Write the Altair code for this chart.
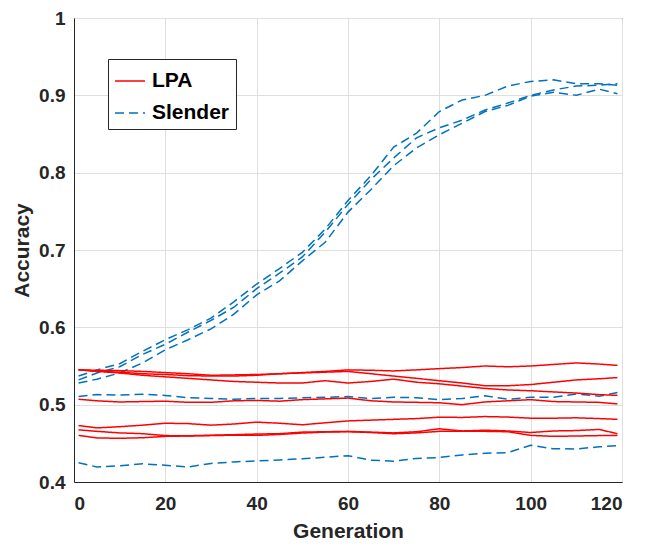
import altair as alt
import pandas as pd

gens = [1, 5, 10, 15, 20, 25, 30, 35, 40, 45, 50, 55, 60, 65, 70, 75, 80, 85, 90, 95, 100, 105, 110, 115, 119]

# Slender runs (blue dashed)
slender_1 = [0.537, 0.545, 0.553, 0.569, 0.584, 0.597, 0.612, 0.633, 0.656, 0.676, 0.697, 0.727, 0.764,
             0.796, 0.833, 0.851, 0.879, 0.894, 0.900, 0.912, 0.918, 0.920, 0.915, 0.915, 0.913]
slender_2 = [0.532, 0.541, 0.549, 0.565, 0.578, 0.594, 0.609, 0.626, 0.650, 0.670, 0.691, 0.723, 0.759,
             0.791, 0.819, 0.845, 0.858, 0.868, 0.881, 0.890, 0.900, 0.907, 0.912, 0.913, 0.915]
slender_3 = [0.528, 0.533, 0.541, 0.554, 0.571, 0.584, 0.598, 0.617, 0.642, 0.660, 0.686, 0.710, 0.749,
             0.778, 0.809, 0.832, 0.849, 0.864, 0.879, 0.887, 0.899, 0.904, 0.900, 0.908, 0.902]
slender_4 = [0.5107, 0.513, 0.5125, 0.5135, 0.512, 0.509, 0.508, 0.507, 0.508, 0.508, 0.509, 0.5095, 0.5105,
             0.508, 0.5095, 0.509, 0.5065, 0.508, 0.5115, 0.507, 0.5095, 0.5095, 0.5137, 0.511, 0.5158]
slender_5 = [0.4248, 0.4195, 0.421, 0.4235, 0.4216, 0.4195, 0.424, 0.426, 0.4273, 0.4285, 0.430, 0.432, 0.434,
             0.4282, 0.4269, 0.4305, 0.4317, 0.435, 0.4372, 0.438, 0.4474, 0.443, 0.4427, 0.4455, 0.447]

# LPA runs (red solid)
lpa_a = [0.545, 0.5445, 0.544, 0.543, 0.5415, 0.540, 0.538, 0.5385, 0.539, 0.540, 0.5415, 0.543, 0.545,
         0.5445, 0.5436, 0.545, 0.5466, 0.548, 0.550, 0.549, 0.550, 0.552, 0.554, 0.5525, 0.5508]
lpa_b = [0.545, 0.5435, 0.542, 0.540, 0.539, 0.5375, 0.537, 0.537, 0.538, 0.540, 0.541, 0.542, 0.543,
         0.540, 0.537, 0.534, 0.531, 0.528, 0.5245, 0.5245, 0.526, 0.529, 0.532, 0.5335, 0.535]
lpa_c = [0.545, 0.543, 0.541, 0.538, 0.536, 0.534, 0.532, 0.530, 0.529, 0.528, 0.528, 0.531, 0.528,
         0.530, 0.533, 0.529, 0.527, 0.524, 0.521, 0.519, 0.518, 0.5165, 0.515, 0.513, 0.512]
lpa_d = [0.507, 0.505, 0.5035, 0.504, 0.5045, 0.503, 0.503, 0.505, 0.5055, 0.5045, 0.5065, 0.5075, 0.5085,
         0.505, 0.5035, 0.503, 0.5025, 0.500, 0.5035, 0.505, 0.5065, 0.504, 0.5035, 0.503, 0.501]
lpa_e = [0.473, 0.470, 0.4715, 0.4735, 0.476, 0.4755, 0.4735, 0.475, 0.4774, 0.476, 0.474, 0.4765, 0.479,
         0.480, 0.481, 0.482, 0.4838, 0.4835, 0.4846, 0.484, 0.4825, 0.4825, 0.483, 0.482, 0.481]
lpa_f = [0.4675, 0.4655, 0.4635, 0.4625, 0.460, 0.4598, 0.4605, 0.4612, 0.462, 0.4625, 0.4645, 0.465, 0.4655,
         0.4645, 0.4635, 0.465, 0.4688, 0.466, 0.467, 0.466, 0.464, 0.466, 0.4665, 0.468, 0.4624]
lpa_g = [0.4603, 0.457, 0.4565, 0.4572, 0.459, 0.4595, 0.460, 0.4605, 0.4603, 0.4615, 0.4633, 0.4645, 0.465,
         0.464, 0.4624, 0.4635, 0.4655, 0.4655, 0.4655, 0.465, 0.4603, 0.459, 0.4595, 0.460, 0.4603]

runs = [
    ("Slender", "s1", slender_1), ("Slender", "s2", slender_2), ("Slender", "s3", slender_3),
    ("Slender", "s4", slender_4), ("Slender", "s5", slender_5),
    ("LPA", "a", lpa_a), ("LPA", "b", lpa_b), ("LPA", "c", lpa_c), ("LPA", "d", lpa_d),
    ("LPA", "e", lpa_e), ("LPA", "f", lpa_f), ("LPA", "g", lpa_g),
]

rows = []
for method, rid, vals in runs:
    for g, v in zip(gens, vals):
        rows.append({"method": method, "run": rid, "gen": g, "acc": v})
df = pd.DataFrame(rows)

FONT = "Liberation Sans"
TXT = "#262626"

chart = alt.Chart(df).mark_line(strokeWidth=1.5).encode(
    x=alt.X("gen:Q", title="Generation",
            scale=alt.Scale(domain=[0, 120], nice=False),
            axis=alt.Axis(values=[0, 20, 40, 60, 80, 100, 120], labelPadding=12, titlePadding=7)),
    y=alt.Y("acc:Q", title="Accuracy",
            scale=alt.Scale(domain=[0.4, 1.0], nice=False),
            axis=alt.Axis(values=[0.4, 0.5, 0.6, 0.7, 0.8, 0.9, 1.0], format=".1~f",
                          labelPadding=9, titlePadding=6)),
    color=alt.Color("method:N", title=None,
                    scale=alt.Scale(domain=["LPA", "Slender"], range=["#FF0000", "#0072BD"])),
    strokeDash=alt.StrokeDash("method:N", title=None,
                              scale=alt.Scale(domain=["LPA", "Slender"], range=[[1, 0], [9, 5]])),
    detail="run:N",
).properties(
    width=548, height=464,
    autosize=alt.AutoSizeParams(type="none"),
    padding={"left": 66, "top": 10, "right": 20, "bottom": 60},
).configure_view(
    stroke=TXT, strokeWidth=1
).configure_axis(
    labelFont=FONT, labelFontSize=19, labelFontWeight="bold", labelColor=TXT,
    titleFont=FONT, titleFontSize=21, titleFontWeight="bold", titleColor=TXT,
    grid=True, gridColor="#dfdfdf", gridWidth=1,
    ticks=False, domain=True, domainColor=TXT, domainWidth=1,
).configure_legend(
    orient="none", legendX=34, legendY=41,
    strokeColor=TXT, fillColor="white", padding=6, cornerRadius=0,
    symbolType="stroke", symbolSize=900, symbolStrokeWidth=1.5,
    labelFont=FONT, labelFontSize=21, labelFontWeight="bold", labelColor="black",
    labelOffset=6, rowPadding=6,
)

chart.save("out.html", embed_options={"renderer": "svg", "actions": False})
